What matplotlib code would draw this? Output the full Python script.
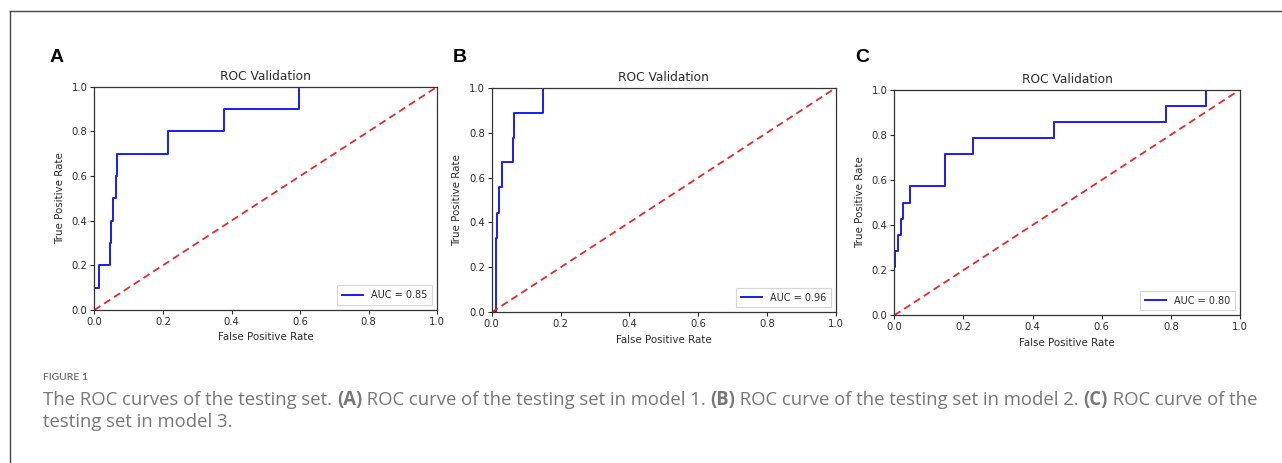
import matplotlib
matplotlib.use("Agg")
import matplotlib.pyplot as plt
from matplotlib.lines import Line2D

# ---- data ----
fpr_a = [0.0, 0.0, 0.013, 0.013, 0.046, 0.046, 0.049, 0.049, 0.055, 0.055, 0.064, 0.064, 0.067, 0.067, 0.216, 0.216, 0.377, 0.377, 0.596, 0.596, 1.0]
tpr_a = [0.0, 0.1, 0.1, 0.2, 0.2, 0.3, 0.3, 0.4, 0.4, 0.5, 0.5, 0.6, 0.6, 0.7, 0.7, 0.8, 0.8, 0.9, 0.9, 1.0, 1.0]

fpr_b = [0.0, 0.012, 0.012, 0.016, 0.016, 0.021, 0.021, 0.029, 0.029, 0.063, 0.063, 0.066, 0.066, 0.150, 0.150, 1.0]
tpr_b = [0.0, 0.0, 0.333, 0.333, 0.444, 0.444, 0.556, 0.556, 0.667, 0.667, 0.778, 0.778, 0.889, 0.889, 1.0, 1.0]

fpr_c = [0.0, 0.002, 0.002, 0.012, 0.012, 0.020, 0.020, 0.024, 0.024, 0.045, 0.045, 0.147, 0.147, 0.228, 0.228, 0.463, 0.463, 0.785, 0.785, 0.903, 0.903, 1.0]
tpr_c = [0.214, 0.214, 0.286, 0.286, 0.357, 0.357, 0.429, 0.429, 0.500, 0.500, 0.571, 0.571, 0.714, 0.714, 0.786, 0.786, 0.857, 0.857, 0.929, 0.929, 1.0, 1.0]

auc_values = [0.85, 0.96, 0.80]
panel_letters = ["A", "B", "C"]
ticks = [0.0, 0.2, 0.4, 0.6, 0.8, 1.0]
tick_labels = ["0.0", "0.2", "0.4", "0.6", "0.8", "1.0"]
title_text = "ROC Validation"
xlabel_text = "False Positive Rate"
ylabel_text = "True Positive Rate"

caption_head = "FIGURE 1"
caption_line1 = [("The ROC curves of the testing set. ", False), ("(A)", True),
                 (" ROC curve of the testing set in model 1. ", False), ("(B)", True),
                 (" ROC curve of the testing set in model 2. ", False), ("(C)", True),
                 (" ROC curve of the", False)]
caption_line2 = "testing set in model 3."

# ---- figure ----
W, H = 1282, 463
fig = plt.figure(figsize=(W / 100, H / 100), dpi=100)
fig.patch.set_facecolor("white")

# outer frame (top and left border)
fig.add_artist(Line2D([10 / W, 1.0], [1 - 11 / H, 1 - 11 / H], transform=fig.transFigure,
                      color="#444444", lw=1.0))
fig.add_artist(Line2D([10 / W, 10 / W], [0.0, 1 - 11 / H], transform=fig.transFigure,
                      color="#444444", lw=1.0))

# axes boxes in pixels: left, right, top, bottom
boxes = [(94.3, 437.3, 86.7, 310.0),
         (491.7, 836.0, 87.7, 312.3),
         (894.3, 1240.0, 89.7, 315.3)]
letter_pos = [(57, 57), (460, 57), (862, 57)]
curves = [(fpr_a, tpr_a), (fpr_b, tpr_b), (fpr_c, tpr_c)]

txt_col = "#2b2b2b"
for i, (l, r, t, b) in enumerate(boxes):
    ax = fig.add_axes([l / W, (H - b) / H, (r - l) / W, (b - t) / H])
    fpr, tpr = curves[i]
    ax.plot(fpr, tpr, color="#1a1aff", lw=1.4, label="AUC = %.2f" % auc_values[i])
    ax.plot([0, 1], [0, 1], color="#e8262b", lw=1.3, linestyle=(0, (4, 2.5)))
    ax.set_xlim(0, 1)
    ax.set_ylim(0, 1)
    ax.set_xticks(ticks)
    ax.set_xticklabels(tick_labels)
    ax.set_yticks(ticks)
    ax.set_yticklabels(tick_labels)
    ax.tick_params(labelsize=7.2, colors=txt_col, length=3, width=0.8, pad=2)
    for s in ax.spines.values():
        s.set_color("#333333")
        s.set_linewidth(0.9)
    ax.set_title(title_text, fontsize=8.8, color=txt_col, pad=5)
    ax.set_xlabel(xlabel_text, fontsize=7.4, color=txt_col, labelpad=4)
    ax.set_ylabel(ylabel_text, fontsize=7.4, color=txt_col, labelpad=5)
    leg = ax.legend(loc="lower right", fontsize=7, frameon=True, handlelength=2.2,
                    borderpad=0.5, fancybox=False)
    leg.get_frame().set_edgecolor("#cccccc")
    leg.get_frame().set_linewidth(0.8)
    for tx in leg.get_texts():
        tx.set_color(txt_col)
    lx, ly = letter_pos[i]
    fig.text(lx / W, 1 - ly / H, panel_letters[i], fontsize=14, fontweight="bold",
             family="Liberation Sans", ha="center", va="center", color="black")

# ---- caption ----
cap_col = "#777777"
cap_font = "Open Sans"
fig.text(43 / W, 1 - 377 / H, caption_head, fontsize=7.5, fontweight="semibold",
         family="Lato", color="#6a6a6a", ha="left", va="center")

fig.canvas.draw()
renderer = fig.canvas.get_renderer()

# fit caption font size so the first line spans the same width as the reference
target_width = 1262 - 43
probe = 10.0
total = 0.0
for seg, bold in caption_line1:
    t = fig.text(0, 0, seg, fontsize=probe, family=cap_font,
                 fontweight="bold" if bold else "normal")
    total += t.get_window_extent(renderer=renderer).width
    t.remove()
cap_size = probe * target_width / total

x = 43.0
for seg, bold in caption_line1:
    t = fig.text(x / W, 1 - 400 / H, seg, fontsize=cap_size, family=cap_font,
                 fontweight="bold" if bold else "normal", color=cap_col,
                 ha="left", va="center")
    bb = t.get_window_extent(renderer=renderer)
    x += bb.width
fig.text(43 / W, 1 - 422 / H, caption_line2, fontsize=cap_size, family=cap_font,
         color=cap_col, ha="left", va="center")

fig.savefig("out.png", dpi=100, facecolor="white")
